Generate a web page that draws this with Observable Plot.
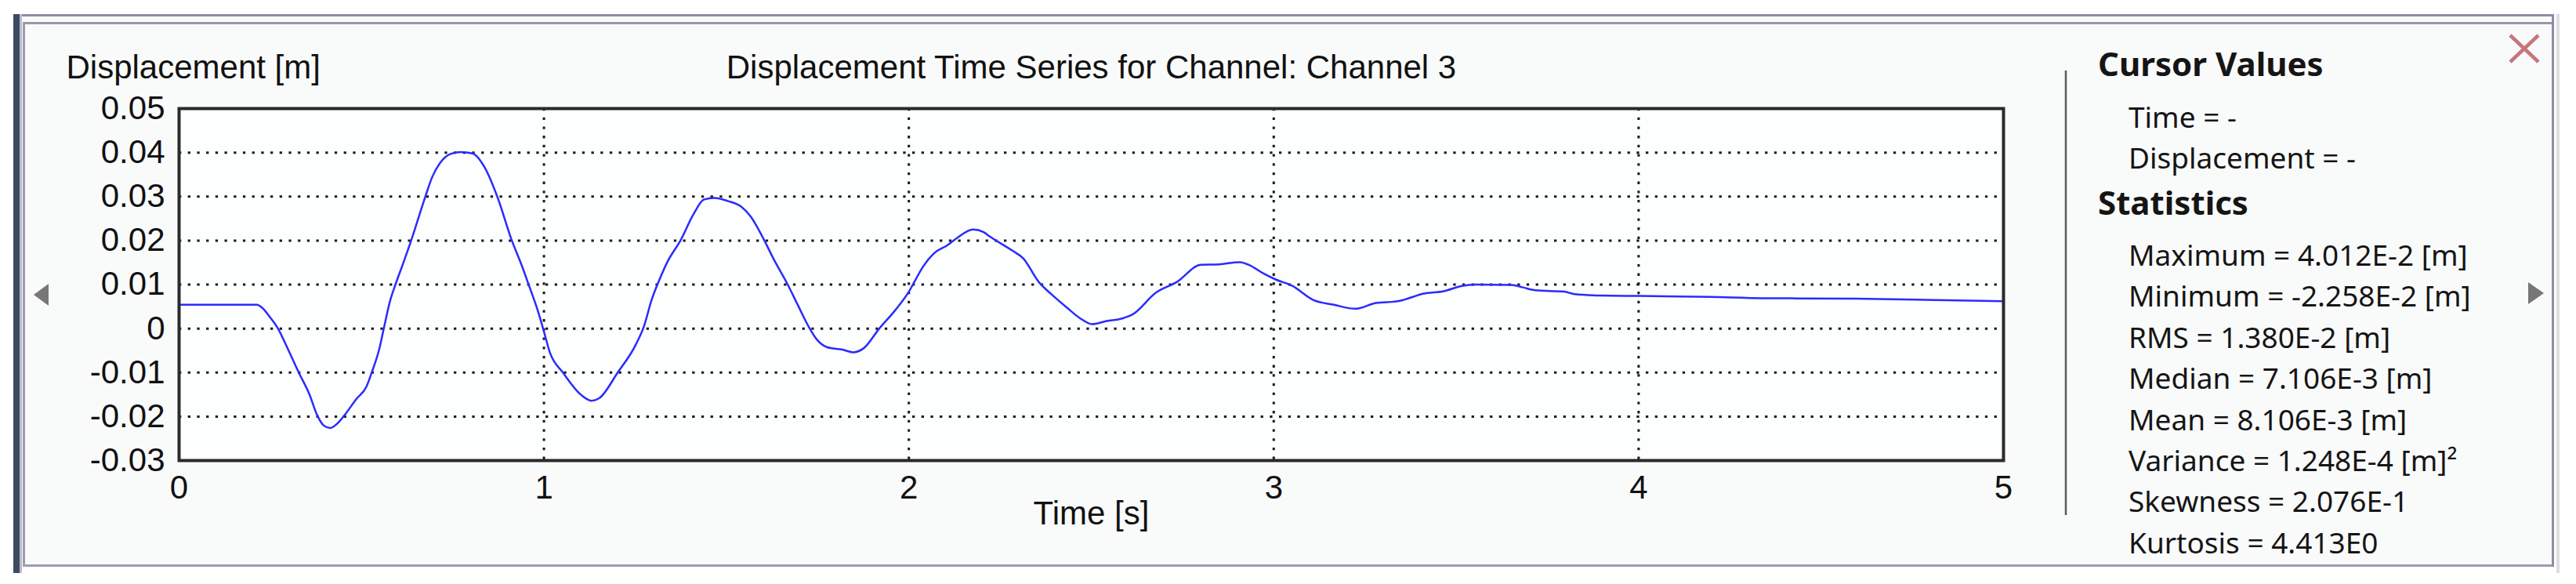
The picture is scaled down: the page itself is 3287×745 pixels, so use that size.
<!DOCTYPE html>
<html><head><meta charset="utf-8">
<script src="https://cdn.jsdelivr.net/npm/d3@7"></script>
<script src="https://cdn.jsdelivr.net/npm/@observablehq/plot@0.6"></script>
<style>
html,body{margin:0;padding:0;background:#fff;}
#root{position:relative;width:3287px;height:745px;overflow:hidden;background:#fff;}
.abs{position:absolute;}
#chart{position:absolute;left:0;top:0;}
#panel{position:absolute;left:0;top:0;pointer-events:none;}
</style></head><body>
<div id="root">
  <div class="abs" style="left:17px;top:18px;width:3242px;height:705px;background:#f9fafa"></div>
  <div class="abs" style="left:17px;top:18px;width:3242px;height:3px;background:#8d8da5"></div>
  <div class="abs" style="left:29px;top:28px;width:3230px;height:3px;background:#9797ad"></div>
  <div class="abs" style="left:17px;top:18px;width:8px;height:713px;background:#3c4b62"></div>
  <div class="abs" style="left:25px;top:18px;width:3px;height:713px;background:#b9bcc8"></div>
  <div class="abs" style="left:29px;top:28px;width:3px;height:695px;background:#9a9ab2"></div>
  <div class="abs" style="left:29px;top:720px;width:3230px;height:3px;background:#9d9db2"></div>
  <div class="abs" style="left:3256px;top:18px;width:3px;height:705px;background:#8d8da5"></div>
  <div class="abs" style="left:3262px;top:18px;width:4px;height:713px;background:#dedede"></div>
  <div id="chart"></div>
  <svg id="panel" width="3287" height="745"></svg>
</div>
<script>
// ---- data ----
const time = [0, 0.1, 0.213, 0.228, 0.249, 0.271, 0.299, 0.328, 0.357, 0.378, 0.396, 0.414, 0.435, 0.457, 0.485, 0.514, 0.528, 0.55, 0.561, 0.579, 0.593, 0.614, 0.636, 0.657, 0.675, 0.693, 0.715, 0.744, 0.772, 0.804, 0.837, 0.872, 0.912, 0.937, 0.958, 0.983, 1.0, 1.016, 1.052, 1.102, 1.13, 1.152, 1.202, 1.252, 1.274, 1.295, 1.317, 1.338, 1.374, 1.41, 1.438, 1.467, 1.503, 1.539, 1.567, 1.596, 1.632, 1.668, 1.696, 1.725, 1.747, 1.775, 1.818, 1.847, 1.876, 1.919, 1.962, 2.001, 2.019, 2.04, 2.069, 2.105, 2.134, 2.176, 2.205, 2.222, 2.284, 2.313, 2.356, 2.392, 2.434, 2.47, 2.502, 2.542, 2.585, 2.613, 2.678, 2.735, 2.8, 2.85, 2.907, 2.936, 2.972, 3.004, 3.051, 3.108, 3.165, 3.223, 3.28, 3.34, 3.359, 3.409, 3.466, 3.516, 3.552, 3.652, 3.681, 3.717, 3.796, 3.825, 3.896, 4.004, 4.197, 4.341, 4.598, 4.813, 5.0];
const disp = [0.0054, 0.0054, 0.0054, 0.0047, 0.0026, 0, -0.0048, -0.010, -0.0149, -0.0196, -0.0220, -0.0226, -0.0215, -0.0193, -0.0161, -0.0131, -0.010, -0.0042, 0, 0.0065, 0.010, 0.0148, 0.020, 0.0254, 0.030, 0.0343, 0.0376, 0.0397, 0.0401, 0.0398, 0.0367, 0.030, 0.020, 0.0148, 0.010, 0.0041, -0.0007, -0.0054, -0.010, -0.0151, -0.0164, -0.0158, -0.010, -0.0036, 0.0005, 0.0065, 0.0112, 0.0151, 0.020, 0.026, 0.0293, 0.0297, 0.029, 0.0278, 0.0254, 0.0213, 0.0154, 0.010, 0.0053, 0.0005, -0.0024, -0.0042, -0.0048, -0.0054, -0.0045, 0, 0.0041, 0.0085, 0.0112, 0.0142, 0.0171, 0.0189, 0.0207, 0.0225, 0.0219, 0.0209, 0.0177, 0.016, 0.0106, 0.0077, 0.0047, 0.0023, 0.001, 0.0017, 0.0023, 0.0032, 0.0082, 0.0106, 0.0145, 0.0146, 0.0151, 0.0143, 0.0125, 0.0112, 0.0097, 0.0065, 0.0054, 0.0045, 0.0058, 0.0062, 0.0066, 0.0079, 0.0085, 0.0097, 0.010, 0.0099, 0.0094, 0.0087, 0.0084, 0.0078, 0.0075, 0.0074, 0.0072, 0.0069, 0.0068, 0.0065, 0.0062];
const xTicks = [0, 1, 2, 3, 4, 5];
const yTicks = [-0.03, -0.02, -0.01, 0, 0.01, 0.02, 0.03, 0.04, 0.05];
const chartTitle = "Displacement Time Series for Channel: Channel 3";
const yLabel = "Displacement [m]";
const xLabel = "Time [s]";
const cursorHeading = "Cursor Values";
const cursorLines = ["Time = -", "Displacement = -"];
const statsHeading = "Statistics";
const statNames = ["Maximum", "Minimum", "RMS", "Median", "Mean", "Variance", "Skewness", "Kurtosis"];
const statValues = ["4.012E-2 [m]", "-2.258E-2 [m]", "1.380E-2 [m]", "7.106E-3 [m]", "8.106E-3 [m]", "1.248E-4 [m]²", "2.076E-1", "4.413E0"];

const data = time.map((t, i) => ({t, v: disp[i]}));
const fmt = d => String(+d.toFixed(2));
const font = "'Liberation Sans', Arial, sans-serif";
const grid = {stroke: "#1a1a1a", strokeOpacity: 1, strokeWidth: 3, strokeDasharray: "3.3,8.4"};

const chart = Plot.plot({
  width: 2620, height: 745,
  marginLeft: 228, marginRight: 64, marginTop: 138, marginBottom: 158,
  style: {background: "transparent", fontFamily: font, fontSize: "42px", color: "#111", overflow: "visible"},
  x: {domain: [0, 5]},
  y: {domain: [-0.03, 0.05]},
  marks: [
    Plot.frame({fill: "#fdfefe"}),
    Plot.gridY(yTicks, grid),
    Plot.gridX(xTicks, grid),
    Plot.line(data, {x: "t", y: "v", stroke: "#2b2bff", strokeWidth: 2.5, curve: "monotone-x"}),
    Plot.frame({stroke: "#2a2a2a", strokeWidth: 4}),
    Plot.axisY(yTicks, {tickSize: 0, tickPadding: 18, tickFormat: fmt, label: null, fontSize: 42}),
    Plot.axisX(xTicks, {tickSize: 0, tickPadding: 19, tickFormat: d => String(d), label: null, fontSize: 42}),
    Plot.text([yLabel], {frameAnchor: "top-left", text: d => d, dx: -144, dy: -39, textAnchor: "start", lineAnchor: "bottom", fontSize: 42}),
    Plot.text([chartTitle], {frameAnchor: "top", text: d => d, dy: -39, lineAnchor: "bottom", fontSize: 42}),
    Plot.text([xLabel], {frameAnchor: "bottom", text: d => d, dy: 81, lineAnchor: "bottom", fontSize: 42})
  ]
});
document.getElementById("chart").appendChild(chart);

// ---- side panel ----
const svg = d3.select("#panel");
const pfont = "'Noto Sans', 'Open Sans', sans-serif";
svg.append("line").attr("x1", 2636).attr("x2", 2636).attr("y1", 90).attr("y2", 657)
  .attr("stroke", "#5a5a5a").attr("stroke-width", 2.5);
svg.append("path").attr("d", "M3203,45L3239,79M3239,45L3203,79")
  .attr("stroke", "#c7767c").attr("stroke-width", 4.5).attr("fill", "none");
svg.append("path").attr("d", "M43,376L62,362L62,390Z").attr("fill", "#777");
svg.append("path").attr("d", "M3226,360L3246,374L3226,388Z").attr("fill", "#777");
const T = svg.append("g").attr("font-family", pfont).attr("fill", "#151515");
T.append("text").attr("x", 2677).attr("y", 97).attr("font-size", 42).attr("font-weight", 700).text(cursorHeading);
cursorLines.forEach((s, i) => T.append("text").attr("x", 2716).attr("y", 163 + 52.4 * i).attr("font-size", 37).text(s));
T.append("text").attr("x", 2677).attr("y", 274).attr("font-size", 42).attr("font-weight", 700).text(statsHeading);
statNames.forEach((s, i) => T.append("text").attr("x", 2716).attr("y", 339 + 52.4 * i).attr("font-size", 37).text(s + " = " + statValues[i]));
</script>
</body></html>
